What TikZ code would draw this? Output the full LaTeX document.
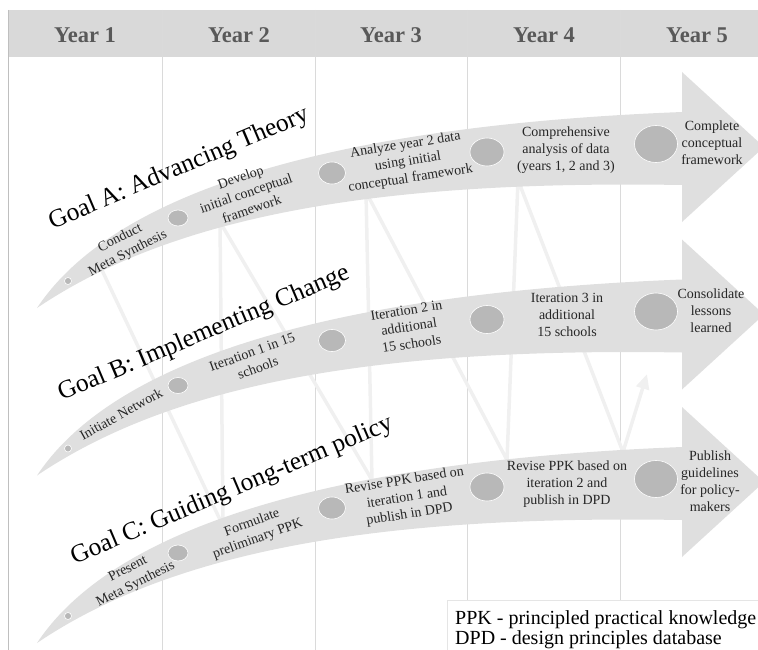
\documentclass[tikz,border=0pt]{standalone}
\usepackage{fontspec}
\setmainfont{Liberation Serif}
\usetikzlibrary{arrows.meta,shapes.geometric}
\definecolor{bandgray}{RGB}{223,223,223}
\definecolor{dotgray}{RGB}{184,184,184}
\definecolor{hdrgray}{RGB}{217,217,217}
\definecolor{hdrtext}{RGB}{89,89,89}
\definecolor{colgray}{RGB}{218,218,218}
\definecolor{ziggray}{RGB}{240,240,240}
\definecolor{txtdark}{RGB}{38,38,38}
\tikzset{
  colline/.style={draw=colgray, line width=0.9pt},
  zigline/.style={draw=ziggray, line width=3.5pt, line join=round},
  bandfill/.style={fill=bandgray},
  dotnode/.style={ellipse, fill=dotgray, draw=white, line width=0.6pt, inner sep=0pt},
  yeartxt/.style={font=\bfseries\fontsize{22.5}{25}\selectfont, text=hdrtext},
  bandtxt/.style={font=\fontsize{14}{17}\selectfont, align=center, text=txtdark, inner sep=0pt},
  goaltxt/.style={font=\fontsize{25.5}{30}\selectfont, text=black, inner sep=0pt, rotate=23},
}
\def\bandpath{(37,308) .. controls (118,186) and (350,125) .. (682,112) -- (682,72) -- (764,147) -- (682,222) -- (682,185) .. controls (380,180) and (175,215) .. (37,308) -- cycle}
\begin{document}
\begin{tikzpicture}[x=1pt,y=-1pt]
\useasboundingbox (0,0) rectangle (758,650);
\clip (0,0) rectangle (758,650);
% header
\fill[hdrgray] (8,10) rectangle (760,57);
\foreach \x in {162,315,467,620} \draw[colline] (\x,10) -- (\x,650);
\draw[draw=black!25, line width=1pt] (8,10) -- (8,650);
\node[yeartxt] (y1) at (85,35) {Year 1};
\node[yeartxt] (y2) at (239,35) {Year 2};
\node[yeartxt] (y3) at (391,35) {Year 3};
\node[yeartxt] (y4) at (544,35) {Year 4};
\node[yeartxt] (y5) at (697,35) {Year 5};
% zigzag connectors
\coordinate (z0) at (100,266);
\coordinate (z1) at (223,526);
\coordinate (z2) at (220,222);
\coordinate (z3) at (372,480);
\coordinate (z4) at (366,192);
\coordinate (z5) at (507,460);
\coordinate (z6) at (518,180);
\coordinate (z7) at (623,452);
\coordinate (z8) at (647,374);
\draw[zigline] (z0) -- (z1) -- (z2) -- (z3) -- (z4) -- (z5) -- (z6) -- (z7);
\draw[zigline, -{Triangle[length=15pt,width=13pt]}] (z7) -- (z8);
% bands
\fill[bandfill] \bandpath;
\begin{scope}[yshift=-167.5pt]
\fill[bandfill] \bandpath;
\end{scope}
\begin{scope}[yshift=-335pt]
\fill[bandfill] \bandpath;
\end{scope}
% dots A
\node[dotnode, minimum width=7pt, minimum height=7pt] (a1) at (68,281) {};
\node[dotnode, minimum width=20pt, minimum height=16pt] (a2) at (178,218) {};
\node[dotnode, minimum width=27pt, minimum height=22pt] (a3) at (332,173) {};
\node[dotnode, minimum width=34pt, minimum height=28pt] (a4) at (487,152) {};
\node[dotnode, minimum width=43pt, minimum height=37pt] (a5) at (656,144) {};
% dots B
\node[dotnode, minimum width=7pt, minimum height=7pt] (b1) at (68,448.5) {};
\node[dotnode, minimum width=20pt, minimum height=16pt] (b2) at (178,385.5) {};
\node[dotnode, minimum width=27pt, minimum height=22pt] (b3) at (332,340.5) {};
\node[dotnode, minimum width=34pt, minimum height=28pt] (b4) at (487,319.5) {};
\node[dotnode, minimum width=43pt, minimum height=37pt] (b5) at (656,311.5) {};
% dots C
\node[dotnode, minimum width=7pt, minimum height=7pt] (c1) at (68,616) {};
\node[dotnode, minimum width=20pt, minimum height=16pt] (c2) at (178,553) {};
\node[dotnode, minimum width=27pt, minimum height=22pt] (c3) at (332,508) {};
\node[dotnode, minimum width=34pt, minimum height=28pt] (c4) at (487,487) {};
\node[dotnode, minimum width=43pt, minimum height=37pt] (c5) at (656,479) {};
% texts A
\node[bandtxt, rotate=27] (ta1) at (124,246) {Conduct\\Meta Synthesis};
\node[bandtxt, rotate=19] (ta2) at (246,193) {Develop\\initial conceptual\\framework};
\node[bandtxt, rotate=9] (ta3) at (408,162) {Analyze year 2 data\\using initial\\conceptual framework};
\node[bandtxt] (ta4) at (566,150) {Comprehensive\\analysis of data\\(years 1, 2 and 3)};
\node[bandtxt] (ta5) at (712,143) {Complete\\conceptual\\framework};
% texts B
\node[bandtxt, rotate=29] (tb1) at (121,414) {Initiate Network};
\node[bandtxt, rotate=20] (tb2) at (255,360) {Iteration 1 in 15\\schools};
\node[bandtxt, rotate=9] (tb3) at (409,327) {Iteration 2 in\\additional\\15 schools};
\node[bandtxt] (tb4) at (567,315) {Iteration 3 in\\additional\\15 schools};
\node[bandtxt] (tb5) at (711,311) {Consolidate\\lessons\\learned};
% texts C
\node[bandtxt, rotate=27] (tc1) at (132,577) {Present\\Meta Synthesis};
\node[bandtxt, rotate=20] (tc2) at (255,531) {Formulate\\preliminary PPK};
\node[bandtxt, rotate=9] (tc3) at (407,498) {Revise PPK based on\\iteration 1 and\\publish in DPD};
\node[bandtxt] (tc4) at (567,484) {Revise PPK based on\\iteration 2 and\\publish in DPD};
\node[bandtxt] (tc5) at (710,481) {Publish\\guidelines\\for policy-\\makers};
% goal titles
\node[goaltxt] (ga) at (179,169) {Goal A: Advancing Theory};
\node[goaltxt] (gb) at (204,334) {Goal B: Implementing Change};
\node[goaltxt] (gc) at (232,491) {Goal C: Guiding long-term policy};
% legend
\node[draw=black!10, fill=white, line width=0.8pt, minimum width=320pt, minimum height=60pt, anchor=north west, inner sep=0pt] (legbox) at (447,600) {};
\node[anchor=west, align=left, inner sep=0pt, font=\fontsize{20}{20}\selectfont] (legtxt) at (455,630) {PPK - principled practical knowledge\\DPD - design principles database};
\end{tikzpicture}
\end{document}
